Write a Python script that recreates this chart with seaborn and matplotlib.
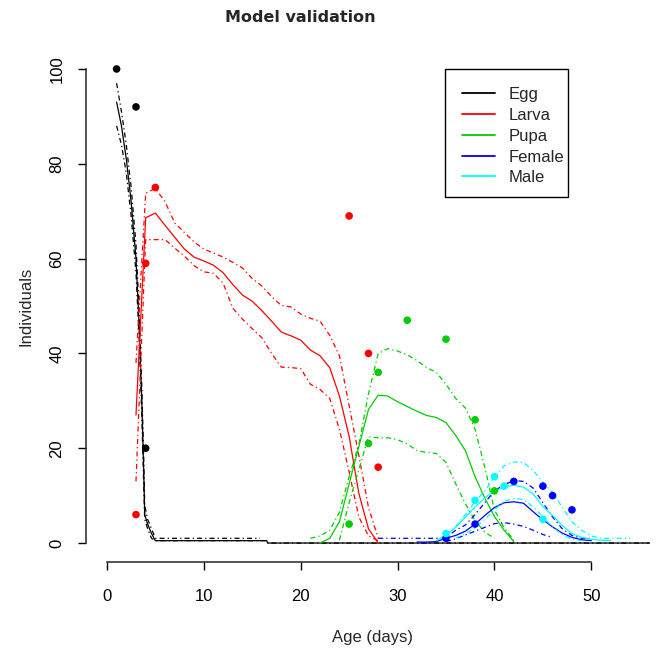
import matplotlib
matplotlib.use("Agg")
import matplotlib.pyplot as plt
from matplotlib.lines import Line2D
from matplotlib.patches import Rectangle
import seaborn as sns

# ---------------- data ----------------
# Egg (model mean and bounds)
egg_days = [1, 1.5, 2, 2.5, 3, 3.3, 3.6, 3.8, 3.9, 4.2, 4.6, 5, 16.5, 16.6, 56]
egg_mean = [93, 88, 81, 72, 60, 47, 30, 15, 6, 4, 2, 0.5, 0.5, 0, 0]
egg_upper_days = [1, 1.5, 2, 2.5, 3, 3.3, 3.6, 3.8, 3.9, 4.2, 4.6, 5, 15.8]
egg_upper = [97, 91, 84, 75, 63, 50, 33, 18, 8, 5, 3, 1, 1]
egg_lower_days = [1, 1.5, 2, 2.5, 3, 3.3, 3.6, 3.8, 3.9, 4.2, 4.6, 5, 16.5, 16.6, 56]
egg_lower = [88, 84, 78, 69, 57, 44, 27, 12, 5, 3, 1, 0.5, 0.5, 0, 0]

# Larva
larva_days = list(range(3, 29))
larva_mean = [27, 68.6, 69.6, 67, 64.5, 62, 60.3, 59.5, 58.6, 57, 54.5, 52.3, 51,
              49, 46.8, 44.5, 43.7, 42.8, 40.7, 39.5, 37, 31, 22.5, 10.5, 3, 0]
larva_upper = [38, 73.8, 74.8, 72, 67.5, 65.5, 63.5, 62, 61.2, 60.3, 59.2, 58, 55.8,
               54.2, 52, 50.1, 49.8, 48.3, 47.4, 46.8, 43.8, 39.5, 29, 18.5, 7.5, 1]
larva_lower = [13, 64, 64, 64, 62.2, 60.5, 58.5, 57.2, 56.9, 54.8, 49.5, 47.2, 45.2,
               43.3, 40, 37.1, 37, 36.8, 33.5, 32.4, 30.5, 24, 15, 5.5, 1.5, 0.5]

# Pupa
pupa_mean_days = list(range(22, 43))
pupa_mean = [0, 1, 4.5, 12.5, 20.3, 28.2, 31.2, 31, 29.8, 28.8, 27.8, 26.9, 26.5,
             25.4, 22.7, 19.5, 14, 9.5, 5.6, 2.7, 0.3]
pupa_upper_days = list(range(21, 43))
pupa_upper = [1, 1.5, 2.7, 6.5, 14, 20.8, 31.5, 40, 41, 40.5, 39.7, 38.5, 37, 36,
              33.5, 30.5, 28.5, 24, 16, 7, 3.2, 0.6]
pupa_lower_days = list(range(24, 41))
pupa_lower = [0.6, 8.5, 15.5, 22.4, 22.2, 22.2, 21.8, 20.9, 19.5, 19.1, 18.9, 17,
              12.5, 8.3, 4.7, 2.3, 1]

# Female
female_mean_days = list(range(32, 51))
female_mean = [0.2, 0.2, 0.3, 1, 1.6, 2.5, 4, 5.8, 7.5, 8.5, 8.7, 8.4, 6.6, 4.9,
               3.4, 2.1, 1.2, 0.7, 0.5]
female_upper_days = list(range(28, 51))
female_upper = [1, 1, 1, 1, 1, 1, 1, 1.2, 2.7, 3.8, 6, 8.5, 11, 12.3, 13.2, 13,
                11.6, 8.5, 5.5, 3, 1.6, 1, 1]
female_lower_days = list(range(35, 47))
female_lower = [0.3, 0.9, 1.7, 2.5, 3.3, 4.1, 4.3, 4, 3.5, 2.7, 1.8, 1.2]

# Male
male_mean_days = list(range(34, 53))
male_mean = [0.5, 1.7, 3.3, 5.5, 7.6, 9.5, 11, 11.8, 12.2, 11.8, 10.3, 7.7, 5.8,
             3.7, 2, 1.2, 0.8, 0.6, 0.5]
male_upper_days = list(range(35, 55))
male_upper = [1.7, 3.5, 6, 8.7, 11, 13.8, 16.3, 17.1, 17, 15.3, 12.8, 10.7, 7.5,
              4.5, 2.7, 1.5, 1, 1, 1, 1]
male_lower_days = list(range(36, 50))
male_lower = [1, 2, 3.2, 5, 7, 8.8, 9.4, 9.2, 7.6, 5.6, 3.3, 1.8, 0.8, 0.5]

# Observed data
egg_obs_days = [1, 3, 4]
egg_obs = [100, 92, 20]
larva_obs_days = [3, 4, 5, 25, 27, 28]
larva_obs = [6, 59, 75, 69, 40, 16]
pupa_obs_days = [25, 27, 28, 31, 35, 38, 40]
pupa_obs = [4, 21, 36, 47, 43, 26, 11]
female_obs_days = [35, 38, 42, 45, 46, 48]
female_obs = [1, 4, 13, 12, 10, 7]
male_obs_days = [35, 38, 40, 41, 45]
male_obs = [2, 9, 14, 12, 5]

stages = ["Egg", "Larva", "Pupa", "Female", "Male"]
colors = ["#000000", "#FF0000", "#00CD00", "#0000FF", "#00FFFF"]

# ---------------- plot ----------------
sns.set_style("ticks")
plt.rcParams["font.family"] = ["Liberation Sans", "DejaVu Sans"]

fig = plt.figure(figsize=(6.66, 6.51), dpi=100)
W, H = 666, 651
ax = fig.add_axes([86 / W, (H - 562) / H, (651 - 86) / W, (562 - 50) / H])

dashdot = (0, (4, 2.5, 1, 2.5))
lw = 0.9

series = [
    (egg_days, egg_mean, egg_upper_days, egg_upper, egg_lower_days, egg_lower),
    (larva_days, larva_mean, larva_days, larva_upper, larva_days, larva_lower),
    (pupa_mean_days, pupa_mean, pupa_upper_days, pupa_upper, pupa_lower_days, pupa_lower),
    (female_mean_days, female_mean, female_upper_days, female_upper,
     female_lower_days, female_lower),
    (male_mean_days, male_mean, male_upper_days, male_upper, male_lower_days, male_lower),
]
obs = [
    (egg_obs_days, egg_obs),
    (larva_obs_days, larva_obs),
    (pupa_obs_days, pupa_obs),
    (female_obs_days, female_obs),
    (male_obs_days, male_obs),
]

for (md, mv, ud, uv, ld, lv), col in zip(series, colors):
    sns.lineplot(x=ld, y=lv, color=col, lw=lw, linestyle=dashdot, ax=ax,
                 estimator=None, sort=False)
    sns.lineplot(x=ud, y=uv, color=col, lw=lw, linestyle=dashdot, ax=ax,
                 estimator=None, sort=False)
    sns.lineplot(x=md, y=mv, color=col, lw=lw, ax=ax, estimator=None, sort=False)

for (od, ov), col in zip(obs, colors):
    sns.scatterplot(x=od, y=ov, color=col, s=30, edgecolor="none", ax=ax, zorder=5)

ax.set_xlim(-2.16, 56.16)
ax.set_ylim(-4, 104)
ax.set_xticks([0, 10, 20, 30, 40, 50])
ax.set_yticks([0, 20, 40, 60, 80, 100])
for s in ["top", "right"]:
    ax.spines[s].set_visible(False)
ax.spines["left"].set_bounds(0, 100)
ax.spines["bottom"].set_bounds(0, 50)
for s in ["left", "bottom"]:
    ax.spines[s].set_linewidth(1.1)
ax.tick_params(axis="both", direction="out", length=5.5, width=1.0,
               labelsize=12, colors="black")
ax.tick_params(axis="x", pad=14)
ax.tick_params(axis="y", pad=10, labelrotation=90)
for t in ax.get_yticklabels():
    t.set_va("center")

ax.set_xlabel("Age (days)", fontsize=12)
ax.xaxis.set_label_coords((373 - 86) / 565, (562 - 645) / 512)
ax.xaxis.label.set_va("bottom")
ax.set_ylabel("Individuals", fontsize=12)
ax.yaxis.set_label_coords((26 - 86) / 565, 0.5)
ax.yaxis.label.set_va("center")

fig.text(300 / W, 1 - 17 / H, "Model validation", ha="center", va="center",
         fontsize=11.5, fontweight="bold", family=["DejaVu Sans"])

# legend: entries without frame, box drawn separately (R-style tight box)
handles = [Line2D([0], [0], color=c, lw=1.3) for c in colors]
leg = ax.legend(handles, stages, loc="upper left",
                bbox_to_anchor=(462 / W, 1 - 87 / H), bbox_transform=fig.transFigure,
                fontsize=12, frameon=False,
                borderaxespad=0, borderpad=0, handlelength=2.0,
                handletextpad=0.8, labelspacing=0.35)
fig.add_artist(Rectangle((445 / W, 1 - 197 / H), (568 - 445) / W, (197 - 69) / H,
                         transform=fig.transFigure, fill=False,
                         edgecolor="black", lw=1.0))

fig.savefig("out.png", dpi=100, facecolor="white")
